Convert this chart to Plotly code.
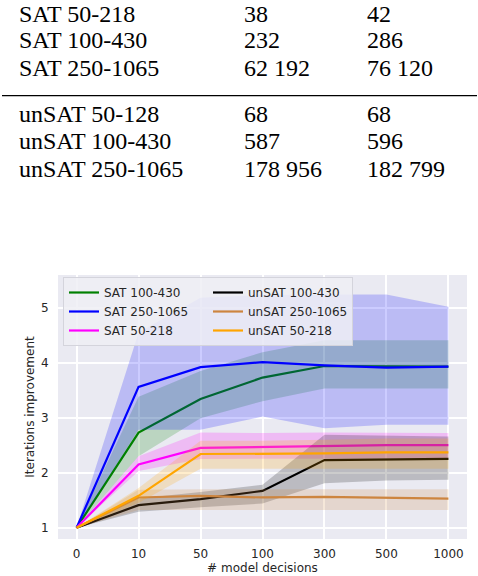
import plotly.graph_objects as go

# ---------------- table data ----------------
table_labels = ["SAT 50-218", "SAT 100-430", "SAT 250-1065",
                "unSAT 50-128", "unSAT 100-430", "unSAT 250-1065"]
table_col2 = ["38", "232", "62 192", "68", "587", "178 956"]
table_col3 = ["42", "286", "76 120", "68", "596", "182 799"]

# ---------------- chart data ----------------
decisions = ["0", "10", "50", "100", "300", "500", "1000"]

sat100_mean = [1, 2.73, 3.34, 3.73, 3.94, 3.94, 3.93]
sat100_lo = [1, 2.30, 2.99, 3.30, 3.53, 3.53, 3.53]
sat100_hi = [1, 3.38, 3.85, 4.19, 4.41, 4.41, 4.41]

sat250_mean = [1, 3.56, 3.92, 4.01, 3.95, 3.91, 3.93]
sat250_lo = [1, 2.78, 2.78, 3.02, 2.81, 2.87, 2.87]
sat250_hi = [1, 4.55, 5.18, 5.23, 5.24, 5.24, 5.02]

sat50_mean = [1, 2.15, 2.45, 2.47, 2.48, 2.50, 2.50]
sat50_lo = [1, 2.03, 2.25, 2.25, 2.25, 2.26, 2.26]
sat50_hi = [1, 2.30, 2.73, 2.72, 2.73, 2.73, 2.72]

unsat100_mean = [1, 1.41, 1.52, 1.67, 2.23, 2.24, 2.25]
unsat100_lo = [1, 1.29, 1.37, 1.44, 1.81, 1.86, 1.87]
unsat100_hi = [1, 1.53, 1.65, 1.78, 2.69, 2.68, 2.66]

unsat250_mean = [1, 1.55, 1.58, 1.55, 1.56, 1.55, 1.53]
unsat250_lo = [1, 1.32, 1.33, 1.32, 1.32, 1.32, 1.32]
unsat250_hi = [1, 1.69, 1.70, 1.70, 1.70, 1.70, 1.70]

unsat50_mean = [1, 1.58, 2.34, 2.34, 2.35, 2.37, 2.37]
unsat50_lo = [1, 1.45, 2.07, 2.07, 2.07, 2.07, 2.07]
unsat50_hi = [1, 1.72, 2.58, 2.58, 2.60, 2.62, 2.62]

series_names = ["SAT 100-430", "SAT 250-1065", "SAT 50-218",
                "unSAT 100-430", "unSAT 250-1065", "unSAT 50-218"]
series_means = [sat100_mean, sat250_mean, sat50_mean,
                unsat100_mean, unsat250_mean, unsat50_mean]
series_lo = [sat100_lo, sat250_lo, sat50_lo, unsat100_lo, unsat250_lo, unsat50_lo]
series_hi = [sat100_hi, sat250_hi, sat50_hi, unsat100_hi, unsat250_hi, unsat50_hi]
series_rgb = [(0, 128, 0), (0, 0, 255), (255, 0, 255),
              (0, 0, 0), (205, 133, 63), (255, 165, 0)]
legend_ranks = [1, 3, 5, 2, 4, 6]

# ---------------- layout geometry ----------------
W, H = 478, 576
ML, MR, MT, MB = 58, 11, 275, 37
PW = W - ML - MR
PH = H - MT - MB


def px_x(p):
    return (p - ML) / PW


def px_y(p):
    return (H - MB - p) / PH


TXT = "#262626"
fig = go.Figure()

for name, m, lo, hi, rgb, rk in zip(series_names, series_means, series_lo,
                                    series_hi, series_rgb, legend_ranks):
    r, g, b = rgb
    fig.add_trace(go.Scatter(
        x=decisions + decisions[::-1], y=hi + lo[::-1],
        fill="toself", fillcolor=f"rgba({r},{g},{b},0.2)",
        line=dict(width=0), mode="lines", showlegend=False, hoverinfo="skip"))
    fig.add_trace(go.Scatter(
        x=decisions, y=m, mode="lines", name=name, legendrank=rk,
        line=dict(color=f"rgb({r},{g},{b})", width=2.2)))

# table text
row_baselines = [21.6, 48.3, 76.0, 121.7, 149.3, 177.3]
col_x = [18.3, 243, 366]
FS = 24
ann = []
for i, bl in enumerate(row_baselines):
    for cx, txt in zip(col_x, [table_labels[i], table_col2[i], table_col3[i]]):
        ann.append(dict(
            text=txt, x=px_x(cx), y=px_y(bl - 0.3375 * FS), xref="paper", yref="paper",
            xanchor="left", yanchor="middle", showarrow=False, borderpad=0,
            font=dict(family="Liberation Serif, Times New Roman, serif", size=FS,
                      color="black")))

fig.update_layout(
    width=W, height=H,
    margin=dict(l=ML, r=MR, t=MT, b=MB, pad=0, autoexpand=False),
    paper_bgcolor="white", plot_bgcolor="#EAEAF2",
    font=dict(family="DejaVu Sans", size=12, color=TXT),
    annotations=ann,
    shapes=[dict(type="line", xref="paper", yref="paper",
                 x0=px_x(2), x1=px_x(477), y0=px_y(95.7), y1=px_y(95.7),
                 line=dict(color="black", width=1.2))],
    legend=dict(orientation="h", x=px_x(63), y=px_y(277), xanchor="left", yanchor="top",
                entrywidth=99, entrywidthmode="pixels",
                bgcolor="rgba(238,238,245,0.85)", bordercolor="#d4d4dc", borderwidth=1,
                font=dict(family="DejaVu Sans", size=12, color=TXT)),
    xaxis=dict(type="category", range=[-0.3, 6.3], showgrid=True, gridcolor="white",
               gridwidth=1.5, zeroline=False, showline=False, ticks="outside", ticklen=4,
               tickcolor="rgba(0,0,0,0)", tickfont=dict(size=12, color=TXT),
               automargin=False,
               title=dict(text="# model decisions", standoff=2,
                          font=dict(size=12, color=TXT))),
    yaxis=dict(range=[0.795, 5.595], tickvals=[1, 2, 3, 4, 5], showgrid=True,
               gridcolor="white", gridwidth=1.5, zeroline=False, showline=False,
               ticks="outside", ticklen=6, tickcolor="rgba(0,0,0,0)",
               tickfont=dict(size=12, color=TXT), automargin=False,
               title=dict(text="Iterations improvement", standoff=3,
                          font=dict(size=12, color=TXT))),
)

fig.write_html("out.html")
